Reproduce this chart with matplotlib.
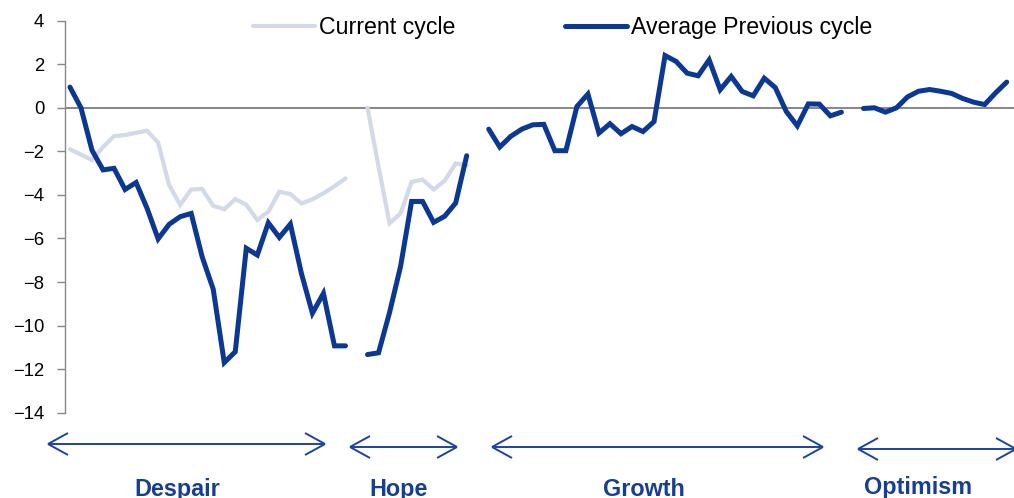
import numpy as np
import matplotlib
matplotlib.use("Agg")
import matplotlib.pyplot as plt
from matplotlib.lines import Line2D

plt.rcParams['font.family'] = ['Liberation Sans', 'DejaVu Sans']

# ---- data ----
despair_prev = [0.95, 0.0, -1.95, -2.85, -2.78, -3.75, -3.43, -4.62, -6.02, -5.35, -5.0,
                -4.85, -6.85, -8.33, -11.7, -11.2, -6.45, -6.76, -5.28, -5.95, -5.34,
                -7.6, -9.43, -8.52, -10.93, -10.93]
despair_cur = [-1.9, -2.15, -2.4, -1.8, -1.3, -1.25, -1.15, -1.05, -1.6, -3.55, -4.46,
               -3.75, -3.73, -4.5, -4.66, -4.19, -4.45, -5.15, -4.77, -3.85, -3.96,
               -4.39, -4.2, -3.93, -3.6, -3.24]
hope_prev = [-11.33, -11.25, -9.4, -7.28, -4.3, -4.3, -5.26, -4.98, -4.37, -2.2]
hope_cur = [0.0, -2.7, -5.3, -4.85, -3.4, -3.3, -3.75, -3.35, -2.55, -2.65]
growth_prev = [-0.98, -1.80, -1.31, -0.98, -0.78, -0.76, -1.97, -1.97, 0.06, 0.63, -1.16,
               -0.73, -1.19, -0.86, -1.09, -0.63, 2.40, 2.13, 1.59, 1.47, 2.20, 0.83,
               1.44, 0.75, 0.55, 1.36, 0.93, -0.17, -0.83, 0.18, 0.17, -0.37, -0.2]
optimism_prev = [-0.03, 0.0, -0.2, 0.0, 0.5, 0.76, 0.84, 0.76, 0.66, 0.43, 0.26, 0.15,
                 0.69, 1.18]
phases = ["Despair", "Hope", "Growth", "Optimism"]
yticks = [4, 2, 0, -2, -4, -6, -8, -10, -12, -14]

gap = [np.nan]
prev = np.array(despair_prev + gap + hope_prev + gap + growth_prev + gap + optimism_prev)
cur = np.array(despair_cur + gap + hope_cur + gap + [np.nan] * len(growth_prev) + gap
               + [np.nan] * len(optimism_prev))
x = np.arange(len(prev))

# ---- styling ----
DARK = '#0b3894'
LIGHT = '#d2d9e8'
LABEL = '#163f94'
ARROW = '#1d43a0'
GREY = '#878787'

W, H = 1014, 498
fig = plt.figure(figsize=(W / 100, H / 100), dpi=100)
ax = fig.add_axes([65 / W, 1 - 412.7 / H, 1 - 65 / W, (412.7 - 20.7) / H])

ax.plot(x, cur, color=LIGHT, lw=3.0, solid_capstyle='round', solid_joinstyle='miter',
        label='Current cycle', zorder=3)
ax.plot(x, prev, color=DARK, lw=3.6, solid_capstyle='round', solid_joinstyle='miter',
        label='Average Previous cycle', zorder=4)
ax.axhline(0, color=GREY, lw=1.4, zorder=2)

ax.set_xlim(-0.45, (W - 70) / 11.02)
ax.set_ylim(-14, 4)
ax.set_yticks(yticks)
ax.set_yticklabels([str(t).replace('-', '\u2212') for t in yticks])
ax.set_xticks([])
for s in ['top', 'right', 'bottom']:
    ax.spines[s].set_visible(False)
ax.spines['left'].set_color(GREY)
ax.spines['left'].set_linewidth(1.0)
ax.tick_params(axis='y', direction='out', length=5.5, width=1.0, color=GREY,
               labelsize=13.3, pad=9.5, labelcolor='black')

leg = fig.legend(loc='center left', bbox_to_anchor=(253 / W, 1 - 27.7 / H), ncol=2,
                 frameon=False, fontsize=16.7, handlelength=2.67, handletextpad=0.17,
                 columnspacing=4.74, borderpad=0, borderaxespad=0)

# ---- phase arrows & labels (figure pixel layout) ----
arrow_spans = [(48, 325, 444), (350, 457, 447), (492, 823, 447), (858, 1016, 449)]
label_pos = [(177, 495.7), (399, 495.7), (644, 495.7), (918, 494)]


def fx(px):
    return px / W


def fy(py):
    return 1 - py / H


for (x0, x1, yy) in arrow_spans:
    hl, hw = 20, 11
    segs = [((x0, yy), (x1, yy)),
            ((x0 + hl, yy - hw), (x0, yy)), ((x0, yy), (x0 + hl, yy + hw)),
            ((x1 - hl, yy - hw), (x1, yy)), ((x1, yy), (x1 - hl, yy + hw))]
    for (a, b) in segs:
        fig.add_artist(Line2D([fx(a[0]), fx(b[0])], [fy(a[1]), fy(b[1])],
                              transform=fig.transFigure, color=ARROW, lw=1.4,
                              solid_capstyle='butt'))

for name, (cx, by) in zip(phases, label_pos):
    fig.text(fx(cx), fy(by), name, ha='center', va='baseline', fontsize=16.8,
             fontweight='bold', color=LABEL)

fig.savefig('out.png', dpi=100)
